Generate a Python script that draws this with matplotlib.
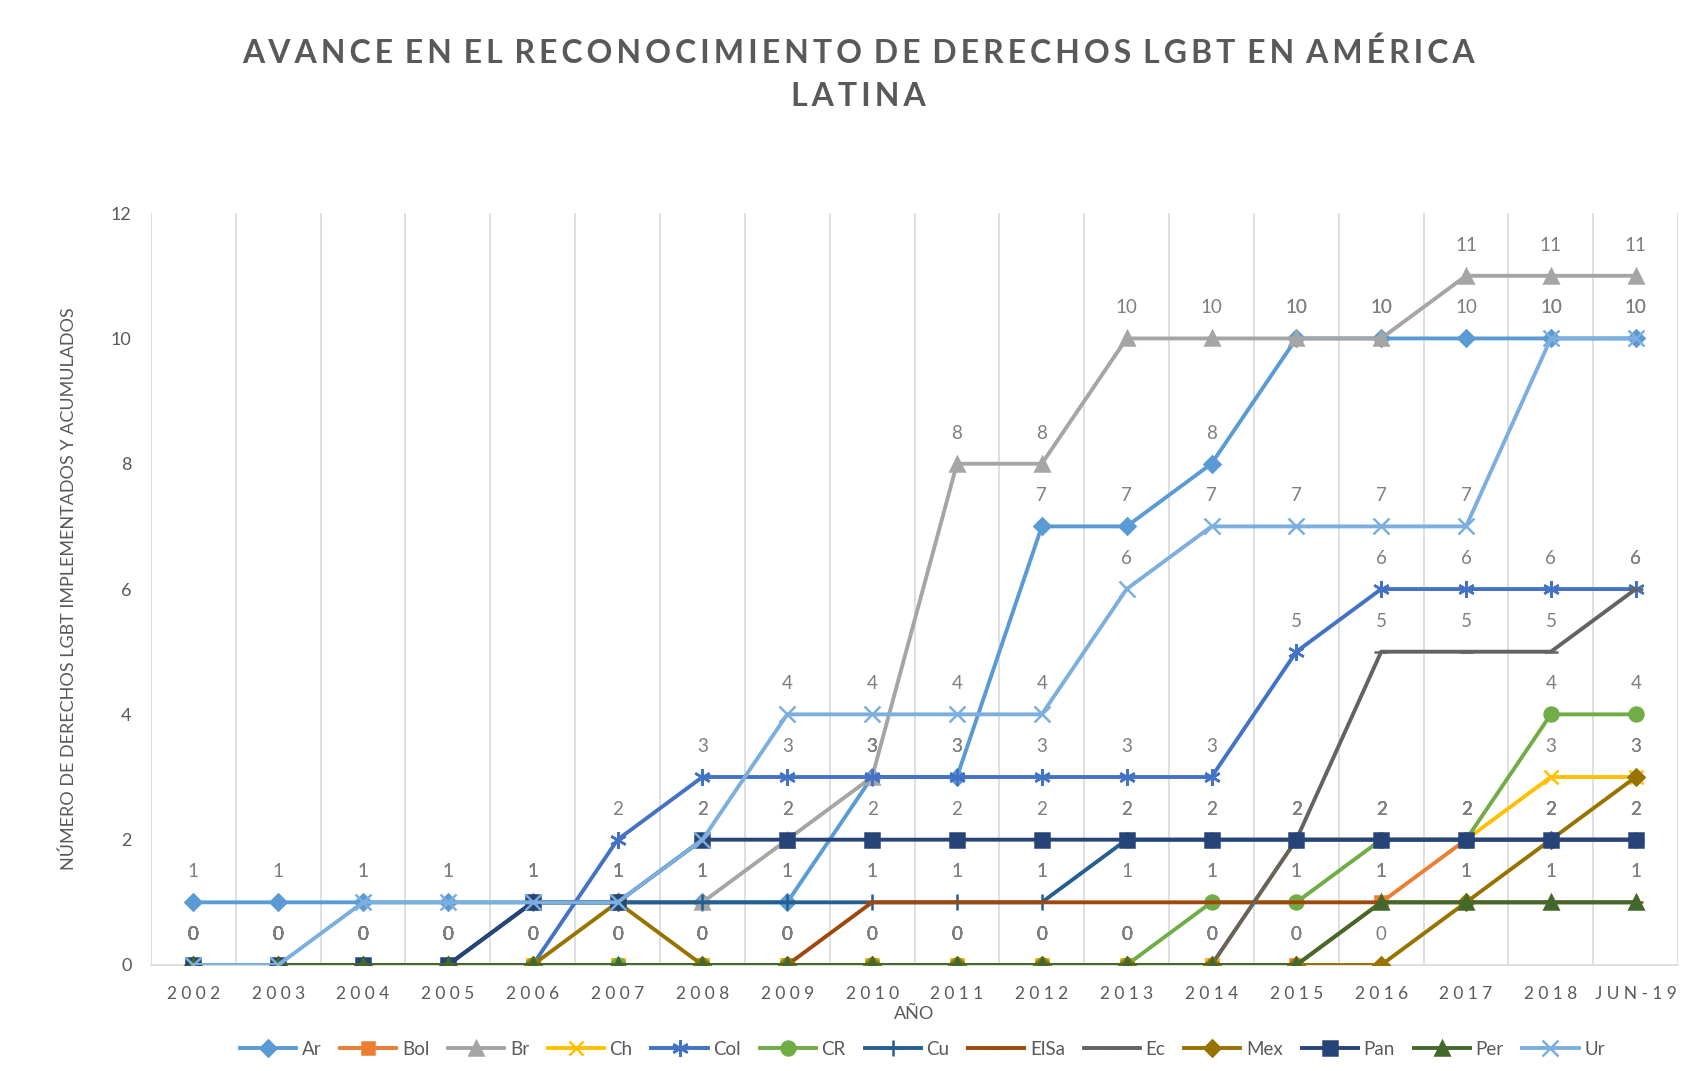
import numpy as np
from matplotlib import pyplot as plt

plt.rcParams['font.family'] = ['Lato', 'DejaVu Sans']

# datos
anios = ['2002', '2003', '2004', '2005', '2006', '2007', '2008', '2009', '2010',
         '2011', '2012', '2013', '2014', '2015', '2016', '2017', '2018', 'JUN-19']

ar = [1, 1, 1, 1, 1, 1, 1, 1, 3, 3, 7, 7, 8, 10, 10, 10, 10, 10]
bol = [0, 0, 0, 0, 0, 0, 0, 0, 0, 0, 0, 0, 0, 0, 1, 2, 2, 2]
br = [0, 0, 0, 0, 1, 1, 1, 2, 3, 8, 8, 10, 10, 10, 10, 11, 11, 11]
ch = [0, 0, 0, 0, 0, 0, 0, 0, 0, 0, 0, 0, 0, 2, 2, 2, 3, 3]
col = [0, 0, 0, 0, 0, 2, 3, 3, 3, 3, 3, 3, 3, 5, 6, 6, 6, 6]
cr = [0, 0, 0, 0, 0, 0, 0, 0, 0, 0, 0, 0, 1, 1, 2, 2, 4, 4]
cu = [0, 0, 0, 0, 1, 1, 1, 1, 1, 1, 1, 2, 2, 2, 2, 2, 2, 2]
elsa = [0, 0, 0, 0, 0, 0, 0, 0, 1, 1, 1, 1, 1, 1, 1, 1, 1, 1]
ec = [0, 0, 0, 0, 0, 0, 0, 0, 0, 0, 0, 0, 0, 2, 5, 5, 5, 6]
mex = [0, 0, 0, 0, 0, 1, 0, 0, 0, 0, 0, 0, 0, 0, 0, 1, 2, 3]
pan = [0, 0, 0, 0, 1, 1, 2, 2, 2, 2, 2, 2, 2, 2, 2, 2, 2, 2]
per = [0, 0, 0, 0, 0, 0, 0, 0, 0, 0, 0, 0, 0, 0, 1, 1, 1, 1]
ur = [0, 0, 1, 1, 1, 1, 2, 4, 4, 4, 4, 6, 7, 7, 7, 7, 10, 10]

series = [
    ('Ar', ar, '#5B9BD5', 'D', 8),
    ('Bol', bol, '#ED7D31', 's', 9),
    ('Br', br, '#A5A5A5', '^', 10),
    ('Ch', ch, '#FFC000', 'x', 10),
    ('Col', col, '#4472C4', (6, 2, 0), 12),
    ('CR', cr, '#70AD47', 'o', 10),
    ('Cu', cu, '#255E91', '+', 12),
    ('ElSa', elsa, '#9E480E', '_', 10),
    ('Ec', ec, '#636363', '_', 10),
    ('Mex', mex, '#997300', 'D', 8),
    ('Pan', pan, '#264478', 's', 10),
    ('Per', per, '#43682B', '^', 10),
    ('Ur', ur, '#7CAFDD', 'x', 11),
]

gris = '#595959'

fig = plt.figure(figsize=(16.9, 10.71), dpi=100)
ax = fig.add_axes([0.0893, 0.099, 0.9037, 0.702])

x = np.arange(len(anios))
for i, (nombre, vals, color, mk, ms) in enumerate(series):
    ax.plot(x, vals, color=color, lw=2.8, marker=mk, markersize=ms,
            markeredgewidth=1.8, label=nombre, zorder=3 + i)

# etiquetas de datos
for nombre, vals, color, mk, ms in series:
    for xi, v in zip(x, vals):
        ax.annotate(str(v), (xi, v), xytext=(0, 22), textcoords='offset points',
                    ha='center', va='center', fontsize=13.5, color='#7F7F7F',
                    zorder=30)

ax.set_xlim(-0.5, len(anios) - 0.5)
ax.set_ylim(0, 12)
ax.set_yticks(range(0, 13, 2))
ax.set_xticks(x)
ax.set_xticklabels(['\u2005'.join(a) for a in anios])
ax.set_xticks(np.arange(-0.5, len(anios), 1), minor=True)
ax.grid(True, which='minor', axis='x', color='#D9D9D9', lw=1.2)
ax.tick_params(which='both', length=0)
ax.tick_params(axis='x', labelsize=12.5, labelcolor=gris, pad=15)
ax.tick_params(axis='y', labelsize=13, labelcolor=gris, pad=14)
for s in ['top', 'left', 'right']:
    ax.spines[s].set_visible(False)
ax.spines['bottom'].set_color('#D9D9D9')
ax.spines['bottom'].set_linewidth(1.2)

ax.set_xlabel('AÑO', fontsize=13, color=gris, labelpad=3)
ax.set_ylabel('NÚMERO DE DERECHOS LGBT IMPLEMENTADOS Y ACUMULADOS',
              fontsize=13, color=gris, labelpad=24)

titulo = ['AVANCE EN EL RECONOCIMIENTO DE DERECHOS LGBT EN AMÉRICA', 'LATINA']
for linea, yy in zip(titulo, [0.951, 0.91]):
    texto = ' \u2009'.join('\u2009'.join(p) for p in linea.split(' '))
    fig.text(0.508, yy, texto, ha='center', va='center', fontsize=23,
             fontweight='bold', color=gris)

ax.legend(loc='center', bbox_to_anchor=(0.505, -0.112), ncol=13, frameon=False,
          fontsize=13.5, handlelength=3.0, columnspacing=1.0, handletextpad=0.3,
          labelcolor=gris)

plt.savefig('out.png', dpi=100)
